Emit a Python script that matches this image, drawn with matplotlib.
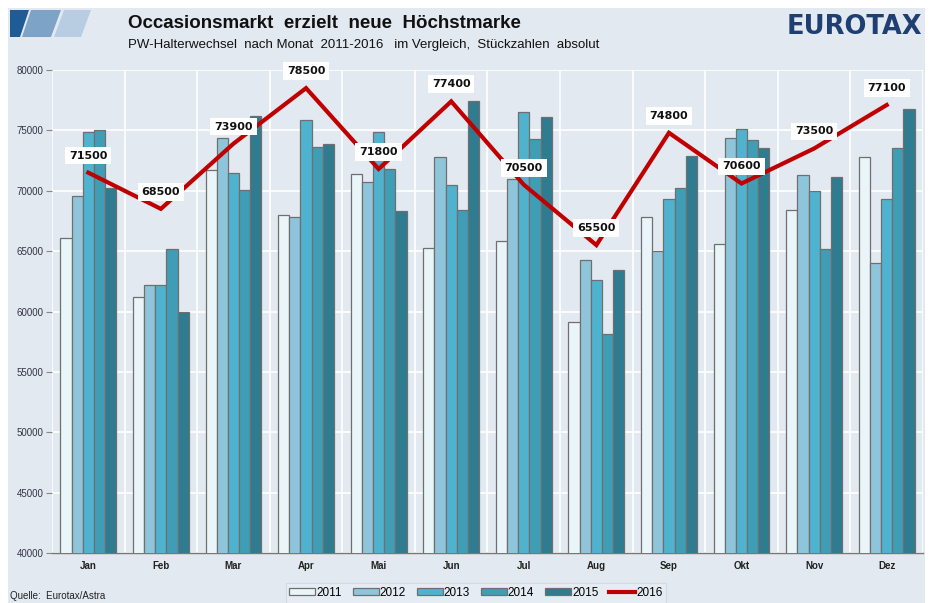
import matplotlib
matplotlib.use("Agg")
import matplotlib.pyplot as plt
from matplotlib.patches import Polygon, Rectangle
import numpy as np

months = ["Jan", "Feb", "Mar", "Apr", "Mai", "Jun", "Jul", "Aug", "Sep", "Okt", "Nov", "Dez"]
years = ["2011", "2012", "2013", "2014", "2015"]

v2011 = [66100, 61200, 71700, 68000, 71400, 65300, 65800, 59100, 67800, 65600, 68400, 72800]
v2012 = [69600, 62200, 74400, 67800, 70700, 72800, 71000, 64300, 65000, 74400, 71300, 64000]
v2013 = [74900, 62200, 71500, 75900, 74900, 70500, 76500, 62600, 69300, 75100, 70000, 69300]
v2014 = [75000, 65200, 70100, 73600, 71800, 68400, 74300, 58100, 70200, 74200, 65200, 73500]
v2015 = [70200, 60000, 76200, 73900, 68300, 77400, 76100, 63400, 72900, 73500, 71100, 76800]
v2016 = [71500, 68500, 73900, 78500, 71800, 77400, 70500, 65500, 74800, 70600, 73500, 77100]

bar_series = [v2011, v2012, v2013, v2014, v2015]
bar_colors = ["#eaf5f9", "#8ec5da", "#4fb3cf", "#3f9db5", "#2f7b8f"]
line_color = "#c00000"
bg = "#e3e9f1"

W, H = 933, 603
fig = plt.figure(figsize=(W / 100, H / 100), dpi=100)
fig.patch.set_facecolor("white")


def fx(px):
    return px / W


def fy(py):
    return 1 - py / H


# panel background
fig.add_artist(Rectangle((fx(8), 0), fx(917), 595 / H, transform=fig.transFigure,
                         facecolor=bg, edgecolor="none", zorder=0))


# logo: three slanted stripes
def stripe(top_l, top_r, bot_l, bot_r, color):
    pts = [(fx(bot_l), fy(37)), (fx(bot_r), fy(37)), (fx(top_r), fy(10)), (fx(top_l), fy(10))]
    fig.add_artist(Polygon(pts, closed=True, transform=fig.transFigure,
                           facecolor=color, edgecolor="none", zorder=1))


stripe(10, 29, 10, 20, "#1f5c96")
stripe(31, 61, 22, 51, "#7da3c6")
stripe(64, 91, 54, 81, "#b9cde2")

fig.text(fx(128), fy(23), "Occasionsmarkt  erzielt  neue  Höchstmarke",
         fontsize=13.5, fontweight="bold", family="Liberation Sans", va="center", ha="left",
         color="#111111")
fig.text(fx(128), fy(45),
         "PW-Halterwechsel  nach Monat  2011-2016   im Vergleich,  Stückzahlen  absolut",
         fontsize=9.5, family="Liberation Sans", va="center", ha="left", color="#111111")
fig.text(fx(922), fy(27), "EUROTAX", fontsize=18.5, fontweight="bold",
         family="DejaVu Sans", va="center", ha="right", color="#1f3f73")
fig.text(fx(10), fy(596), "Quelle:  Eurotax/Astra", fontsize=7,
         family="Liberation Sans", va="center", ha="left", color="#222222")

ax = fig.add_axes([fx(52), fy(553), fx(871), 483 / H])
ax.set_facecolor(bg)

x = np.arange(len(months))
n = len(bar_series)
w = 0.154
bar_handles = []
for i, (vals, col) in enumerate(zip(bar_series, bar_colors)):
    b = ax.bar(x + (i - (n - 1) / 2) * w, vals, width=w, bottom=0, color=col,
               edgecolor="#6f6f6f", linewidth=0.9, zorder=3, label=years[i])
    bar_handles.append(b)

line, = ax.plot(x, v2016, color=line_color, linewidth=3.0, zorder=4, label="2016",
                solid_joinstyle="miter")
for xi, val in zip(x, v2016):
    ax.annotate(f"{val}", (xi, val), xytext=(0, 12.3), textcoords="offset points",
                ha="center", va="center", fontsize=8, fontweight="bold", color="#111111",
                zorder=6, bbox=dict(boxstyle="square,pad=0.35", facecolor="white",
                                    edgecolor="none"))

ax.set_xlim(-0.5, len(months) - 0.5)
ax.set_ylim(40000, 80000)
ax.set_yticks(np.arange(40000, 80001, 5000))
ax.set_yticklabels([str(v) for v in range(40000, 80001, 5000)])
ax.set_xticks(x)
ax.set_xticklabels(months)
ax.set_xticks(np.arange(-0.5, len(months), 1), minor=True)
ax.grid(True, axis="y", color="white", linewidth=1.2, zorder=1)
ax.grid(True, axis="x", which="minor", color="white", linewidth=1.2, zorder=1)
ax.grid(False, axis="x", which="major")
for s in ["top", "right", "left"]:
    ax.spines[s].set_visible(False)
ax.spines["bottom"].set_color("#777777")
ax.spines["bottom"].set_linewidth(1.0)
ax.tick_params(axis="y", length=4, color="#888888", labelsize=7, labelcolor="#333344", pad=2)
ax.tick_params(axis="x", which="both", length=0, labelsize=7, labelcolor="#222222", pad=6)
for lab in ax.get_xticklabels():
    lab.set_fontweight("bold")
for lab in ax.get_yticklabels() + ax.get_xticklabels():
    lab.set_family("Liberation Sans")

handles = bar_handles + [line]
labels = years + ["2016"]
leg = fig.legend(handles, labels, loc="center", bbox_to_anchor=(fx(476), fy(593)),
                 ncol=6, frameon=True, fancybox=False, handlelength=2.2,
                 handleheight=0.55, handletextpad=0.1, columnspacing=0.9,
                 borderpad=0.3, prop={"family": "Liberation Sans", "size": 8.5})
leg.get_frame().set_facecolor("#e8edf4")
leg.get_frame().set_edgecolor("#cfd6df")
leg.get_frame().set_linewidth(0.8)

fig.savefig("out.png", dpi=100, facecolor=fig.get_facecolor())
